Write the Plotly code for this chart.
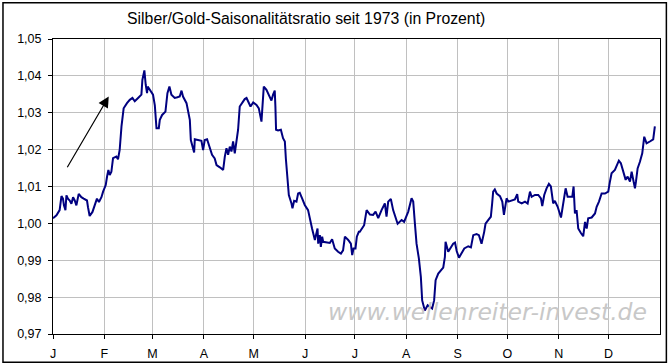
import plotly.graph_objects as go

# Day of (leap) year and silver/gold seasonal ratio
days = [0.0, 2.1, 4.0, 5.1, 6.0, 6.6, 7.5, 8.1, 9.0, 10.1, 11.1, 12.1, 13.1, 14.1, 15.5, 17.1, 18.5, 20.5, 21.1, 22.1,
        23.8, 25.6, 26.5, 27.7, 29.2, 30.2, 31.8, 32.6, 33.4, 34.2, 35.2, 36.2, 38.2, 39.2, 40.2, 41.3, 42.6, 44.6, 46.3, 47.9,
        49.3, 51.3, 53.3, 53.9, 55.1, 55.9, 56.7, 57.1, 58.3, 60.3, 61.4, 62.1, 62.4, 63.8, 64.4, 65.8, 67.8, 69.0, 70.2, 71.4,
        73.4, 75.0, 76.4, 77.5, 78.4, 80.5, 81.4, 82.5, 83.1, 84.5, 85.1, 85.5, 87.5, 89.5, 90.5, 91.5, 92.9, 94.5, 95.9, 97.5,
        98.6, 100.6, 102.6, 103.6, 104.6, 105.6, 106.6, 107.6, 108.6, 109.6, 110.6, 111.6, 112.6, 114.0, 115.6, 116.7, 117.6, 119.1, 120.7, 122.7,
        124.1, 124.7, 125.7, 126.1, 127.1, 128.7, 130.7, 131.7, 132.7, 133.7, 134.1, 134.5, 135.7, 137.4, 138.7, 139.8, 140.4, 141.0, 141.4, 142.2,
        143.8, 144.4, 145.4, 146.8, 147.8, 148.8, 150.2, 151.8, 153.8, 154.9, 156.2, 157.9, 158.9, 159.5, 159.9, 160.9, 161.5, 162.3, 162.9, 164.9,
        166.9, 168.3, 169.9, 171.9, 173.6, 174.9, 176.0, 178.0, 179.6, 180.4, 181.2, 182.4, 183.2, 184.4, 185.0, 187.6, 189.1, 191.1, 193.0, 194.5,
        196.1, 198.1, 200.1, 201.1, 202.1, 203.7, 205.1, 207.8, 210.2, 211.7, 214.2, 216.2, 217.2, 218.2, 219.2, 220.6, 221.8, 222.6, 224.2, 225.9,
        227.2, 228.6, 229.8, 230.7, 232.3, 233.9, 235.3, 236.3, 236.7, 238.3, 240.0, 241.3, 242.4, 243.4, 244.8, 246.4, 248.0, 250.4, 252.0, 253.4,
        255.4, 256.8, 258.4, 260.0, 260.8, 262.4, 264.0, 264.8, 265.4, 266.4, 267.5, 269.5, 270.9, 271.9, 272.5, 273.5, 274.5, 276.5, 278.5, 279.9,
        280.5, 282.6, 284.6, 286.2, 287.6, 288.6, 290.6, 292.6, 294.2, 295.0, 296.2, 297.6, 299.0, 300.2, 301.0, 301.6, 302.6, 304.3, 306.3, 307.7,
        309.1, 310.3, 311.7, 313.1, 313.9, 314.7, 315.7, 316.7, 318.3, 319.7, 320.8, 321.8, 322.7, 324.8, 326.8, 327.8, 329.2, 330.8, 332.8, 334.8,
        335.8, 336.8, 338.8, 341.2, 342.4, 343.8, 345.3, 346.5, 347.9, 348.9, 349.9, 350.9, 351.5, 352.5, 353.9, 355.3, 356.5, 357.9, 359.9, 361.9,
        362.9]

ratio = [1.0014, 1.0022, 1.0036, 1.0074, 1.0067, 1.0049, 1.0036, 1.0076, 1.0067, 1.0062, 1.0053, 1.0071, 1.0062, 1.0049, 1.0080, 1.0071, 1.0067, 1.0062, 1.0044, 1.0020,
         1.0031, 1.0053, 1.0067, 1.0058, 1.0071, 1.0086, 1.0104, 1.0127, 1.0145, 1.0131, 1.0140, 1.0177, 1.0181, 1.0174, 1.0199, 1.0263, 1.0312, 1.0326, 1.0335, 1.0340,
         1.0331, 1.0340, 1.0349, 1.0389, 1.0415, 1.0376, 1.0353, 1.0371, 1.0362, 1.0349, 1.0320, 1.0270, 1.0258, 1.0258, 1.0281, 1.0294, 1.0303, 1.0353, 1.0371, 1.0349,
         1.0340, 1.0342, 1.0344, 1.0360, 1.0344, 1.0326, 1.0308, 1.0281, 1.0226, 1.0199, 1.0192, 1.0228, 1.0226, 1.0224, 1.0199, 1.0226, 1.0228, 1.0208, 1.0186, 1.0176,
         1.0158, 1.0152, 1.0145, 1.0181, 1.0204, 1.0186, 1.0208, 1.0195, 1.0222, 1.0190, 1.0226, 1.0254, 1.0317, 1.0328, 1.0337, 1.0340, 1.0331, 1.0317, 1.0328, 1.0321,
         1.0312, 1.0294, 1.0276, 1.0303, 1.0371, 1.0362, 1.0344, 1.0333, 1.0349, 1.0360, 1.0317, 1.0254, 1.0252, 1.0254, 1.0231, 1.0222, 1.0176, 1.0135, 1.0104, 1.0077,
         1.0054, 1.0041, 1.0061, 1.0059, 1.0081, 1.0083, 1.0068, 1.0050, 1.0036, 1.0009, 0.9986, 0.9955, 0.9973, 0.9986, 0.9945, 0.9968, 0.9936, 0.9964, 0.9950, 0.9948,
         0.9947, 0.9957, 0.9932, 0.9923, 0.9918, 0.9927, 0.9964, 0.9955, 0.9945, 0.9914, 0.9932, 0.9932, 0.9964, 0.9977, 0.9977, 0.9995, 1.0036, 1.0024, 1.0023, 1.0032,
         1.0014, 1.0036, 1.0054, 1.0018, 1.0059, 1.0066, 1.0036, 0.9999, 1.0009, 1.0004, 1.0032, 1.0068, 1.0059, 1.0000, 0.9945, 0.9905, 0.9855, 0.9791, 0.9764, 0.9778,
         0.9773, 0.9769, 0.9791, 0.9846, 0.9864, 0.9873, 0.9880, 0.9909, 0.9950, 0.9923, 0.9936, 0.9945, 0.9948, 0.9925, 0.9907, 0.9918, 0.9932, 0.9938, 0.9935, 0.9968,
         0.9971, 0.9968, 0.9945, 0.9977, 0.9999, 1.0009, 1.0018, 1.0054, 1.0086, 1.0092, 1.0081, 1.0074, 1.0059, 1.0023, 1.0041, 1.0068, 1.0059, 1.0063, 1.0065, 1.0079,
         1.0059, 1.0054, 1.0059, 1.0054, 1.0086, 1.0072, 1.0077, 1.0077, 1.0068, 1.0047, 1.0077, 1.0095, 1.0107, 1.0100, 1.0072, 1.0054, 1.0061, 1.0045, 1.0016, 1.0063,
         1.0095, 1.0072, 1.0072, 1.0072, 1.0100, 1.0027, 1.0036, 0.9986, 0.9974, 0.9965, 1.0004, 0.9986, 1.0014, 1.0016, 1.0027, 1.0045, 1.0059, 1.0081, 1.0081, 1.0086,
         1.0113, 1.0136, 1.0145, 1.0170, 1.0163, 1.0140, 1.0118, 1.0127, 1.0113, 1.0140, 1.0113, 1.0095, 1.0113, 1.0149, 1.0167, 1.0190, 1.0235, 1.0217, 1.0222, 1.0228,
         1.0263]

month_starts = [0, 31, 60, 91, 121, 152, 182, 213, 244, 274, 305, 335]
month_labels = ["J", "F", "M", "A", "M", "J", "J", "A", "S", "O", "N", "D"]
y_ticks = [0.97, 0.98, 0.99, 1.00, 1.01, 1.02, 1.03, 1.04, 1.05]

title_text = "Silber/Gold-Saisonalitätsratio seit 1973 (in Prozent)"
watermark = "www.wellenreiter-invest.de"

fig = go.Figure()
fig.add_trace(go.Scatter(x=days, y=ratio, mode="lines",
                         line=dict(color="#000080", width=2), showlegend=False,
                         hoverinfo="skip"))

font_family = "Liberation Sans, Arial, sans-serif"

fig.update_layout(
    width=670, height=364,
    margin=dict(l=53, r=10, t=39, b=30, pad=0),
    paper_bgcolor="white", plot_bgcolor="white",
    separators=",.",
    font=dict(family=font_family, size=12, color="black"),
    title=dict(text=title_text, x=0.457, xanchor="center", y=0.95, yanchor="middle",
               font=dict(family=font_family, size=15.8, color="black")),
    xaxis=dict(range=[0, 366], tickvals=month_starts, ticktext=month_labels,
               showgrid=True, gridcolor="#c0c0c0", gridwidth=1,
               showline=True, linecolor="black", linewidth=1, mirror=True,
               ticks="outside", ticklen=4, tickcolor="black", zeroline=False,
               ticklabelstandoff=4, automargin=False,
               tickfont=dict(size=12.5)),
    yaxis=dict(range=[0.97, 1.05], tickvals=y_ticks, tickformat=".2f",
               showgrid=True, gridcolor="#c0c0c0", gridwidth=1,
               showline=True, linecolor="black", linewidth=1, mirror=True,
               ticks="outside", ticklen=4, tickcolor="black", zeroline=False,
               ticklabelstandoff=4, automargin=False,
               tickfont=dict(size=12.5)),
    shapes=[dict(type="rect", xref="paper", yref="paper",
                 x0=-0.0824, x1=1.0105, y0=-0.0955, y1=1.1225,
                 line=dict(color="black", width=1.5), fillcolor="rgba(0,0,0,0)")],
    annotations=[
        dict(x=33.6, y=1.0344, ax=8.1, ay=1.0148, xref="x", yref="y",
             axref="x", ayref="y", text="", showarrow=True,
             arrowhead=2, arrowsize=1.8, arrowwidth=1.2, arrowcolor="black"),
        dict(x=0.715, y=0.074, xref="paper", yref="paper", text="<i>" + watermark + "</i>",
             showarrow=False, xanchor="center", yanchor="middle",
             font=dict(family="DejaVu Sans, sans-serif", size=23.5, color="#c8c8c8")),
    ],
)

fig.write_html("out.html", config={"displayModeBar": False},
               post_script="document.body.style.margin='0';document.body.style.padding='0';")
